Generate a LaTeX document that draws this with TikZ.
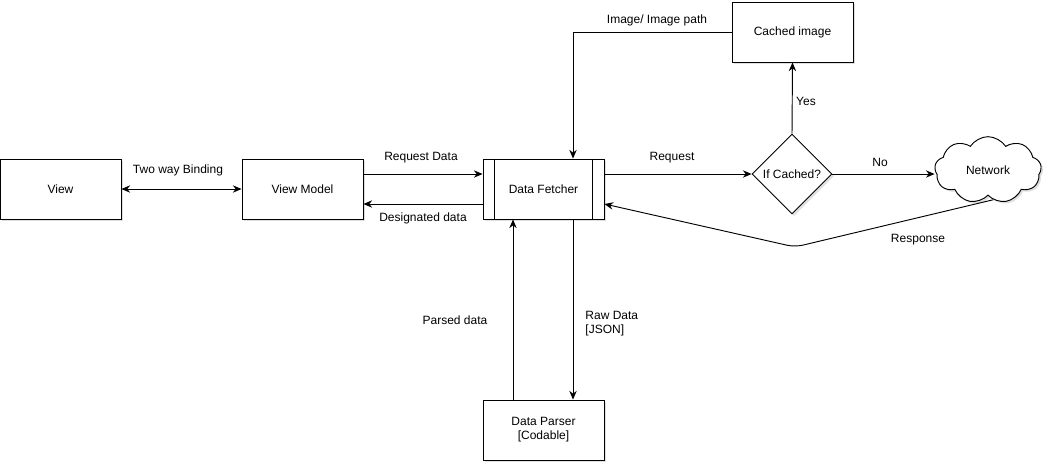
\documentclass[tikz,border=0pt]{standalone}
\usepackage{fontspec}
\setmainfont{Liberation Sans}
\usetikzlibrary{arrows.meta, shapes.geometric, shapes.symbols, shadows, calc}

\begin{document}
\begin{tikzpicture}[x=0.75pt, y=-0.75pt, font=\fontsize{9}{10.5}\selectfont, line width=0.7pt,
    >={Stealth[length=6.5pt, width=5.5pt]},
    block/.style={draw, fill=white, minimum width=90.75pt, minimum height=45pt, inner sep=1pt, align=center,
      drop shadow={opacity=0.25, shadow xshift=1.5pt, shadow yshift=-1.5pt}},
    lbl/.style={inner sep=0pt, align=left}]

  \useasboundingbox (0,0) rectangle (1052,468);

  % Boxes
  \node[block] (view) at (60.5,189) {View};
  \node[block] (vm) at (302.5,189) {View Model};
  \node[block] (fetch) at (543.5,189) {Data Fetcher};
  \node[block] (parser) at (543.5,430) {Data Parser\\{[Codable]}};
  \node[block] (cache) at (792.5,32) {Cached image};
  \node[draw, fill=white, diamond, aspect=1, minimum size=60pt, inner sep=0pt,
    drop shadow={opacity=0.25, shadow xshift=1.5pt, shadow yshift=-1.5pt}] (check) at (792,174) {If Cached?};
  \node[draw, fill=white, cloud, cloud puffs=9, cloud puff arc=115, aspect=1.6, minimum width=80pt, minimum height=50pt,
    inner sep=0pt, drop shadow={opacity=0.25, shadow xshift=1.5pt, shadow yshift=-1.5pt}] (net) at (988,170) {Network};

  % Process bars of the fetcher
  \draw ($(fetch.north west)+(12,0)$) -- ($(fetch.south west)+(12,0)$);
  \draw ($(fetch.north east)+(-12,0)$) -- ($(fetch.south east)+(-12,0)$);

  % Connectors
  \draw[<->] (view) -- (vm);
  \draw[->] ($(vm.east)+(0,-15)$) -- ($(fetch.west)+(0,-15)$);
  \draw[->] ($(fetch.west)+(0,15)$) -- ($(vm.east)+(0,15)$);
  \draw[->] ($(fetch.east)+(0,-15)$) -- (check.west);
  \draw[->] (check.east) -- (check.east -| net.west);
  \draw[->] (check.north) -- (cache.south);
  \draw[->] (cache.west) -| ($(fetch.north)+(29.5,0)$);
  \coordinate (bend) at (795,247);
  \draw[->, rounded corners=6pt] (net.-80) -- (bend) -- ($(fetch.east)+(0,15)$);
  \draw[->] ($(fetch.south)+(29.5,0)$) -- ($(parser.north)+(29.5,0)$);
  \draw[->] ($(parser.north)+(-30.5,0)$) -- ($(fetch.south)+(-30.5,0)$);

  % Labels
  \node[lbl] (lbind) at (178,170) {Two way Binding};
  \node[lbl] (lreqdata) at (421,158) {Request Data};
  \node[lbl] (ldesig) at (423,218) {Designated data};
  \node[lbl] (lreq) at (672,158) {Request};
  \node[lbl] (lno) at (880,162) {No};
  \node[lbl] (lyes) at (806,101) {Yes};
  \node[lbl] (limg) at (657,20) {Image/ Image path};
  \node[lbl] (lresp) at (918,240) {Response};
  \node[lbl, anchor=west] (lraw) at (585,324) {Raw Data\\{[JSON]}};
  \node[lbl] (lparsed) at (455,320) {Parsed data};
\end{tikzpicture}
\end{document}
